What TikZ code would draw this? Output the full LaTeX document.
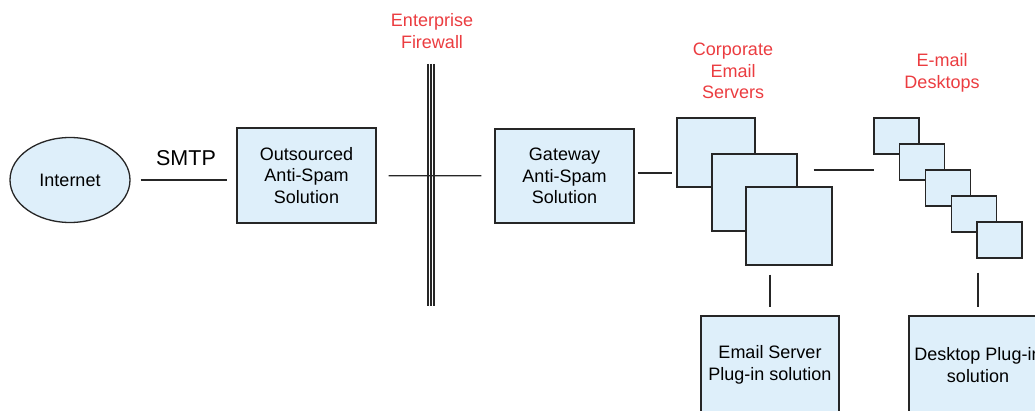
\documentclass[tikz,border=0pt]{standalone}
\usepackage{fontspec}
\setmainfont{Liberation Sans}
\usetikzlibrary{shapes.geometric}
\definecolor{boxfill}{RGB}{222,239,250}
\definecolor{labelred}{RGB}{235,60,64}

\begin{document}
\begin{tikzpicture}[
            x=1pt, y=-1pt,
            every node/.style={font=\fontsize{18}{21.5}\selectfont, align=center, inner sep=0pt},
            box/.style={draw=black!85, line width=1.3pt, fill=boxfill},
            tag/.style={text=labelred},
            wire/.style={draw=black!85, line width=1.3pt}
        ]
            \useasboundingbox (0,0) rectangle (1035,411);
            \clip (0,0) rectangle (1035,411);

            % outside the firewall
            \node[box, ellipse, minimum width=120, minimum height=85] (internet) at (70,180) {Internet};
            \node[font=\fontsize{21.5}{24}\selectfont] (smtp) at (186,158) {SMTP};
            \node[box, minimum width=139, minimum height=95] (outsourced) at (306.5,175.5) {Outsourced\\Anti-Spam\\Solution};

            % firewall
            \foreach \x in {428,431,434}
                \draw[wire, line width=1.2pt] (\x,64) -- (\x,306);
            \node[tag] (firewall) at (432,31) {Enterprise\\Firewall};

            % inside
            \node[box, minimum width=139, minimum height=94] (gateway) at (564.5,176) {Gateway\\Anti-Spam\\Solution};
            \node[box, minimum width=78, minimum height=69] (srvA) at (716,152.5) {};
            \node[box, minimum width=85, minimum height=77] (srvB) at (754.5,192.5) {};
            \node[box, minimum width=86, minimum height=78] (srvC) at (789,226) {};
            \node[tag] (servers) at (733,71) {Corporate\\Email\\Servers};

            \foreach \i/\n in {0/A,1/B,2/C,3/D,4/E}
                \node[box, minimum width=45, minimum height=36] (desk\n) at (896.5+25.75*\i,136+26*\i) {};
            \node[tag] (desktops) at (942,73) {E-mail\\Desktops};

            \node[box, minimum width=138, minimum height=98] (srvplug) at (770,365) {Email Server\\Plug-in solution};
            \node[box, minimum width=138, minimum height=98] (deskplug) at (978,365) {Desktop Plug-in\\solution};

            % connections
            \coordinate (deskin) at (874,170);
            \draw[wire, shorten <=10pt, shorten >=9pt] (internet.east) -- (internet.east -| outsourced.west);
            \draw[wire, shorten <=12pt, shorten >=13pt] (outsourced) -- (gateway);
            \draw[wire, shorten <=3pt, shorten >=4pt] ([yshift=3pt]gateway.east) -- ([yshift=3pt]gateway.east -| srvA.west);
            \draw[wire, shorten <=16pt] (srvB.east |- deskin) -- (deskin);
            \draw[wire, shorten <=9pt, shorten >=8pt] (srvplug.north |- srvC.south) -- (srvplug.north);
            \draw[wire, shorten <=14pt, shorten >=8pt] (deskplug.north |- deskE.south) -- (deskplug.north);
        \end{tikzpicture}
\end{document}
